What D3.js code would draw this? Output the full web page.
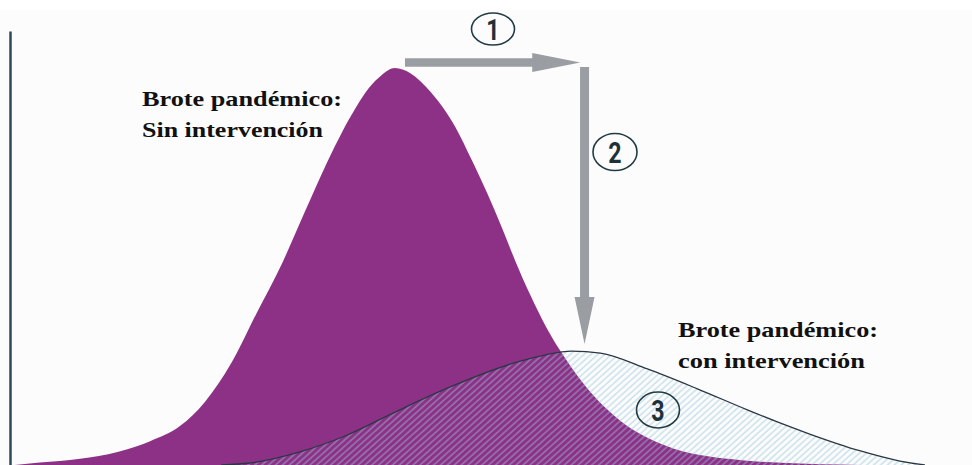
<!DOCTYPE html>
<html>
<meta charset="utf-8">
<style>
  body { margin: 0; background: #ffffff; }
</style>
<body>
<div id="chartContainer"></div>
<script src="https://d3js.org/d3.v7.min.js"></script>
<script>
  "use strict";

  // Outbreak without intervention: week -> % of peak
  var sinWeeks = [0.5, 3.1, 7.3, 11.2, 14.6, 17.7, 20.3, 23.1, 25.7, 28.4, 30.7, 33.0, 34.6,
                  36.0, 37.4, 38.7, 40.1, 41.7, 43.8, 46.4, 48.1, 49.7, 51.2, 52.6, 54.2,
                  55.9, 57.8, 60.1, 63.5, 68.4, 75.0, 82.3, 90.6];
  var sinCases = [0, 0.6, 1.6, 3.3, 6.0, 9.8, 15.9, 25.9, 38.3, 51.1, 63.7, 76.1, 83.9,
                  89.9, 95.0, 98.2, 100, 98.7, 94.0, 85.1, 76.8, 68.5, 60.0, 51.6, 42.8,
                  34.5, 27.0, 19.4, 11.3, 4.8, 1.5, 0.4, 0];

  // Outbreak with intervention: flatter, later peak
  var conWeeks = [22.0, 25.0, 30.2, 34.9, 40.6, 45.8, 52.8, 55.7, 58.5, 61.5, 66.4,
                  71.6, 76.8, 80.2, 83.3, 88.5, 92.7, 95.3];
  var conCases = [0, 0.5, 3.3, 7.3, 13.9, 19.6, 25.9, 27.7, 28.7, 28.2, 24.2,
                  19.2, 13.9, 10.6, 7.8, 3.6, 1.0, 0];

  // Text
  var sinLabel = ["Brote pandémico:", "Sin intervención"];
  var conLabel = ["Brote pandémico:", "con intervención"];
  var steps = ["1", "2", "3"];

  var width = 972, height = 465;
  var purple = "#8d3186";

  var svg = d3.select("#chartContainer").append("svg")
      .attr("width", width)
      .attr("height", height)
      .style("display", "block");

  // paper tone below the thin white top strip
  svg.append("rect")
      .attr("x", 0).attr("y", 10)
      .attr("width", width).attr("height", height - 10)
      .attr("fill", "#fcfcfc");

  var x = d3.scaleLinear().domain([0, 100]).range([10, 970]);
  var y = d3.scaleLinear().domain([0, 100]).range([465, 68]);

  var sinData = sinWeeks.map(function (w, i) { return { w: w, c: sinCases[i] }; });
  var conData = conWeeks.map(function (w, i) { return { w: w, c: conCases[i] }; });

  var area = d3.area()
      .x(function (d) { return x(d.w); })
      .y0(y(0))
      .y1(function (d) { return y(d.c); })
      .curve(d3.curveMonotoneX);

  var line = d3.line()
      .x(function (d) { return x(d.w); })
      .y(function (d) { return y(d.c); })
      .curve(d3.curveMonotoneX);

  // hatch for the "con intervención" area
  var pat = svg.append("defs").append("pattern")
      .attr("id", "hatch")
      .attr("patternUnits", "userSpaceOnUse")
      .attr("width", 4.6)
      .attr("height", 4.6)
      .attr("patternTransform", "rotate(48)");
  pat.append("line")
      .attr("x1", 1).attr("y1", 0)
      .attr("x2", 1).attr("y2", 4.6)
      .attr("stroke", "#96c6dc")
      .attr("stroke-opacity", 0.5)
      .attr("stroke-width", 1.5);

  // the big purple curve
  svg.append("path")
      .datum(sinData)
      .attr("d", area)
      .attr("fill", purple);

  // flattened curve, hatched, with its outline
  svg.append("path")
      .datum(conData)
      .attr("d", area)
      .attr("fill", "url(#hatch)");
  svg.append("path")
      .datum(conData)
      .attr("d", line)
      .attr("fill", "none")
      .attr("stroke", "#2b3844")
      .attr("stroke-width", 1.3);

  // left axis, no ticks
  var yAxis = d3.axisLeft(y.copy().domain([0, 109.3]).range([y(0), y(109.3)]))
      .tickValues([])
      .tickSizeOuter(0);
  svg.append("g")
      .attr("transform", "translate(10,0)")
      .call(yAxis)
      .select(".domain")
      .attr("stroke", "#2e4a56")
      .attr("stroke-width", 2.5);

  // gray arrows: (1) delay of the peak, (2) reduction of the peak
  function arrowPath(len, shaft, headLen, headW) {
    var s = shaft / 2, b = len - headLen;
    return "M0," + (-s) + "L" + b + "," + (-s) + "L" + b + "," + (-headW) +
           "L" + len + ",0L" + b + "," + headW + "L" + b + "," + s + "L0," + s + "Z";
  }
  var arrowY = y(100) - 5.5;
  var hx0 = x(sinWeeks[16]) + 10, hx1 = x(59.4);
  svg.append("path")
      .attr("d", arrowPath(hx1 - hx0, 8.5, 48, 9.5))
      .attr("transform", "translate(" + hx0 + "," + arrowY + ")")
      .attr("fill", "#9a9da1");

  var vx = x(59.85), vy0 = y(100) - 1, vy1 = y(30.5);
  svg.append("path")
      .attr("d", arrowPath(vy1 - vy0, 9, 47, 10))
      .attr("transform", "translate(" + vx + "," + vy0 + ") rotate(90)")
      .attr("fill", "#9a9da1");

  // circled step numbers
  var stepPos = [[493, 29, 21.5, 16], [615, 152, 22, 18.5], [658, 410, 21.5, 18]];
  var marks = svg.selectAll("g.step")
      .data(steps)
      .enter()
      .append("g")
      .attr("class", "step")
      .attr("transform", function (d, i) { return "translate(" + stepPos[i][0] + "," + stepPos[i][1] + ")"; });
  marks.append("ellipse")
      .attr("rx", function (d, i) { return stepPos[i][2]; })
      .attr("ry", function (d, i) { return stepPos[i][3]; })
      .attr("fill", "none")
      .attr("stroke", "#223c45")
      .attr("stroke-width", 1.6);
  marks.append("text")
      .attr("transform", "scale(0.8,1)")
      .attr("text-anchor", "middle")
      .attr("y", 10.5)
      .style("font-family", "Roboto, 'Liberation Sans', sans-serif")
      .style("font-weight", "bold")
      .style("font-size", "29px")
      .attr("fill", "#1f3138")
      .text(function (d) { return d; });

  // curve labels
  function label(lines, lx, ly, widths) {
    svg.selectAll(null)
        .data(lines)
        .enter()
        .append("text")
        .attr("x", lx)
        .attr("y", function (d, i) { return ly + i * 30.5; })
        .attr("textLength", function (d, i) { return widths[i]; })
        .attr("lengthAdjust", "spacingAndGlyphs")
        .style("font-family", "'Liberation Serif', 'Times New Roman', serif")
        .style("font-weight", "bold")
        .style("font-size", "22px")
        .attr("fill", "#111111")
        .text(function (d) { return d; });
  }
  label(sinLabel, 142, 106, [200, 181]);
  label(conLabel, 678, 337, [200, 187]);
</script>
</body>
</html>
